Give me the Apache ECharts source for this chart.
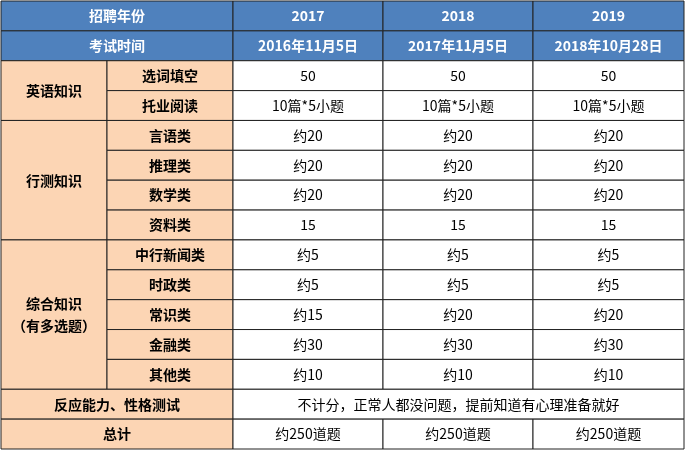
<!DOCTYPE html><html><head><meta charset="utf-8"><script src="https://cdn.jsdelivr.net/npm/echarts@6/dist/echarts.min.js"></script>
<style>body{margin:0}#c{width:686px;height:451px}</style></head><body><div id="c"></div><script>
const years=['2017','2018','2019'];
const examDates=['2016年11月5日','2017年11月5日','2018年10月28日'];
const groups=[['英语知识',2],['行测知识',4],['综合知识\n（有多选题）',5]];
const subjects=['选词填空','托业阅读','言语类','推理类','数学类','资料类','中行新闻类','时政类','常识类','金融类','其他类'];
const v2017=['50','10篇*5小题','约20','约20','约20','15','约5','约5','约15','约30','约10'];
const v2018=['50','10篇*5小题','约20','约20','约20','15','约5','约5','约20','约30','约10'];
const v2019=['50','10篇*5小题','约20','约20','约20','15','约5','约5','约20','约30','约10'];
const personalityLabel='反应能力、性格测试', personalityNote='不计分，正常人都没问题，提前知道有心理准备就好';
const totalLabel='总计', totals=['约250道题','约250道题','约250道题'];
const colX=[1,107,233,383,533,684], nRows=15, tableTop=1, tableBottom=449;
const rh=(tableBottom-tableTop)/nRows, ry=i=>tableTop+i*rh;
const blue='#4F81BD', peach='#FCD5B4', FF='"Microsoft YaHei","Noto Sans CJK SC",sans-serif';
const els=[];
function cell(c0,c1,r0,r1,txt,fill,color,bold){
  const x=colX[c0],y=ry(r0),w=colX[c1]-x,h=ry(r1)-y;
  els.push({type:'rect',shape:{x,y,width:w,height:h},style:{fill,stroke:'#222',lineWidth:1}});
  els.push({type:'text',x:x+w/2,y:y+h/2,style:{text:txt,fill:color,font:(bold?'bold ':'')+'14px '+FF,align:'center',verticalAlign:'middle',lineHeight:22}});
}
cell(0,2,0,1,'招聘年份',blue,'#fff',true);
cell(0,2,1,2,'考试时间',blue,'#fff',true);
years.forEach((y,i)=>cell(2+i,3+i,0,1,y,blue,'#fff',true));
examDates.forEach((d,i)=>cell(2+i,3+i,1,2,d,blue,'#fff',true));
let r=2;groups.forEach(g=>{cell(0,1,r,r+g[1],g[0],peach,'#000',true);r+=g[1];});
const vals=[v2017,v2018,v2019];
subjects.forEach((s,i)=>{cell(1,2,2+i,3+i,s,peach,'#000',true);vals.forEach((v,j)=>cell(2+j,3+j,2+i,3+i,v[i],'#fff','#000',false));});
cell(0,2,13,14,personalityLabel,peach,'#000',true);
cell(2,5,13,14,personalityNote,'#fff','#000',false);
cell(0,2,14,15,totalLabel,peach,'#000',true);
totals.forEach((t,j)=>cell(2+j,3+j,14,15,t,'#fff','#000',false));
const ch=echarts.init(document.getElementById('c'));
ch.setOption({backgroundColor:'#fff',graphic:{elements:els}});
</script></body></html>
